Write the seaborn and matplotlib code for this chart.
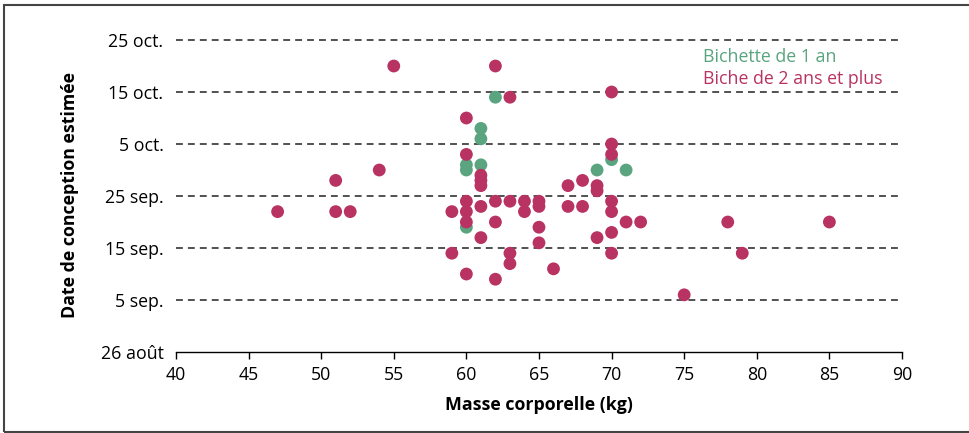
import matplotlib
matplotlib.use("Agg")
import matplotlib.pyplot as plt
import seaborn as sns
import pandas as pd
from matplotlib.patches import Rectangle

# Données (jour 0 = 26 août)
masse_bichette = [62, 61, 61, 60, 60, 61, 60, 69, 70, 71]
jour_bichette = [49, 43, 41, 36, 35, 36, 24, 35, 37, 35]

masse_biche = [47, 51, 51, 52, 54, 55, 59, 59, 60, 60, 60, 60, 60, 60,
               61, 61, 61, 61, 61, 62, 62, 62, 62, 63, 63, 63, 63, 64, 64,
               65, 65, 65, 65, 66, 67, 67, 68, 68, 69, 69, 69, 70, 70, 70,
               70, 70, 70, 70, 71, 72, 75, 78, 79, 85]
jour_biche = [27, 33, 27, 27, 35, 55, 27, 19, 45, 38, 29, 27, 25, 15,
              34, 33, 32, 28, 22, 55, 29, 25, 14, 49, 29, 19, 17, 29, 27,
              29, 28, 24, 21, 16, 32, 28, 33, 28, 32, 31, 22, 50, 40, 38,
              29, 27, 23, 19, 25, 25, 11, 25, 19, 25]

groupes = ["Bichette de 1 an", "Biche de 2 ans et plus"]
couleurs = ["#5aa47f", "#b83262"]

y_ticks = [0, 10, 20, 30, 40, 50, 60]
y_labels = ["26 août", "5 sep.", "15 sep.", "25 sep.", "5 oct.", "15 oct.", "25 oct."]
x_ticks = list(range(40, 91, 5))

df = pd.DataFrame({
    "masse": masse_bichette + masse_biche,
    "jour": jour_bichette + jour_biche,
    "groupe": [groupes[0]] * len(masse_bichette) + [groupes[1]] * len(masse_biche),
})

sns.set_theme(style="white", rc={"text.color": "black", "axes.labelcolor": "black",
                                 "xtick.color": "black", "ytick.color": "black"})
plt.rcParams["font.family"] = ["Open Sans", "DejaVu Sans"]
fs = 12.8

fig = plt.figure(figsize=(9.7, 4.33), dpi=100)
# un peu de marge en haut pour que la ligne du 25 oct. ne soit pas coupée
ax = fig.add_axes([0.1814, 0.187, 0.7485, 0.7254])

sns.scatterplot(data=df, x="masse", y="jour", hue="groupe", hue_order=groupes,
                palette=couleurs, s=85, edgecolor="none", ax=ax, zorder=3)

ax.set_xlim(40, 90)
ax.set_ylim(0, 60.4)
ax.set_xticks(x_ticks)
ax.set_yticks(y_ticks)
ax.set_yticklabels(y_labels)

ax.grid(axis="y", color="#222222", linestyle=(0, (4.5, 3.3)), linewidth=1.1)
ax.yaxis.get_gridlines()[0].set_visible(False)  # pas de pointillés sur l'axe
ax.set_axisbelow(True)
for side in ["top", "right", "left"]:
    ax.spines[side].set_visible(False)
ax.spines["bottom"].set_color("black")
ax.spines["bottom"].set_linewidth(1)
ax.spines["bottom"].set_zorder(4)

ax.tick_params(axis="x", direction="out", length=5, width=1, color="black",
               labelsize=fs, pad=5, bottom=True)
ax.tick_params(axis="y", length=0, labelsize=fs, pad=9)

ax.set_xlabel("Masse corporelle (kg)", fontsize=fs, fontweight="bold")
ax.set_ylabel("Date de conception estimée", fontsize=fs, fontweight="bold")
ax.xaxis.set_label_coords(0.5, -0.14)
ax.yaxis.set_label_coords(-0.133, 0.5)

# légende : texte coloré sans marqueur
handles, labels = ax.get_legend_handles_labels()
leg = ax.legend(handles, labels, loc="upper left", bbox_to_anchor=(0.726, 0.968),
                frameon=False, handlelength=0, handletextpad=0, borderpad=0,
                borderaxespad=0, labelspacing=0.22, fontsize=fs)
for h in leg.legend_handles:
    h.set_visible(False)
for t, c in zip(leg.get_texts(), couleurs):
    t.set_color(c)

# cadre autour de la figure
fig.patches.append(Rectangle((4 / 970, 1.5 / 433), 1.0, 0.985, transform=fig.transFigure,
                             fill=False, edgecolor="#444444", linewidth=1.5))

fig.savefig("out.png", dpi=100)
